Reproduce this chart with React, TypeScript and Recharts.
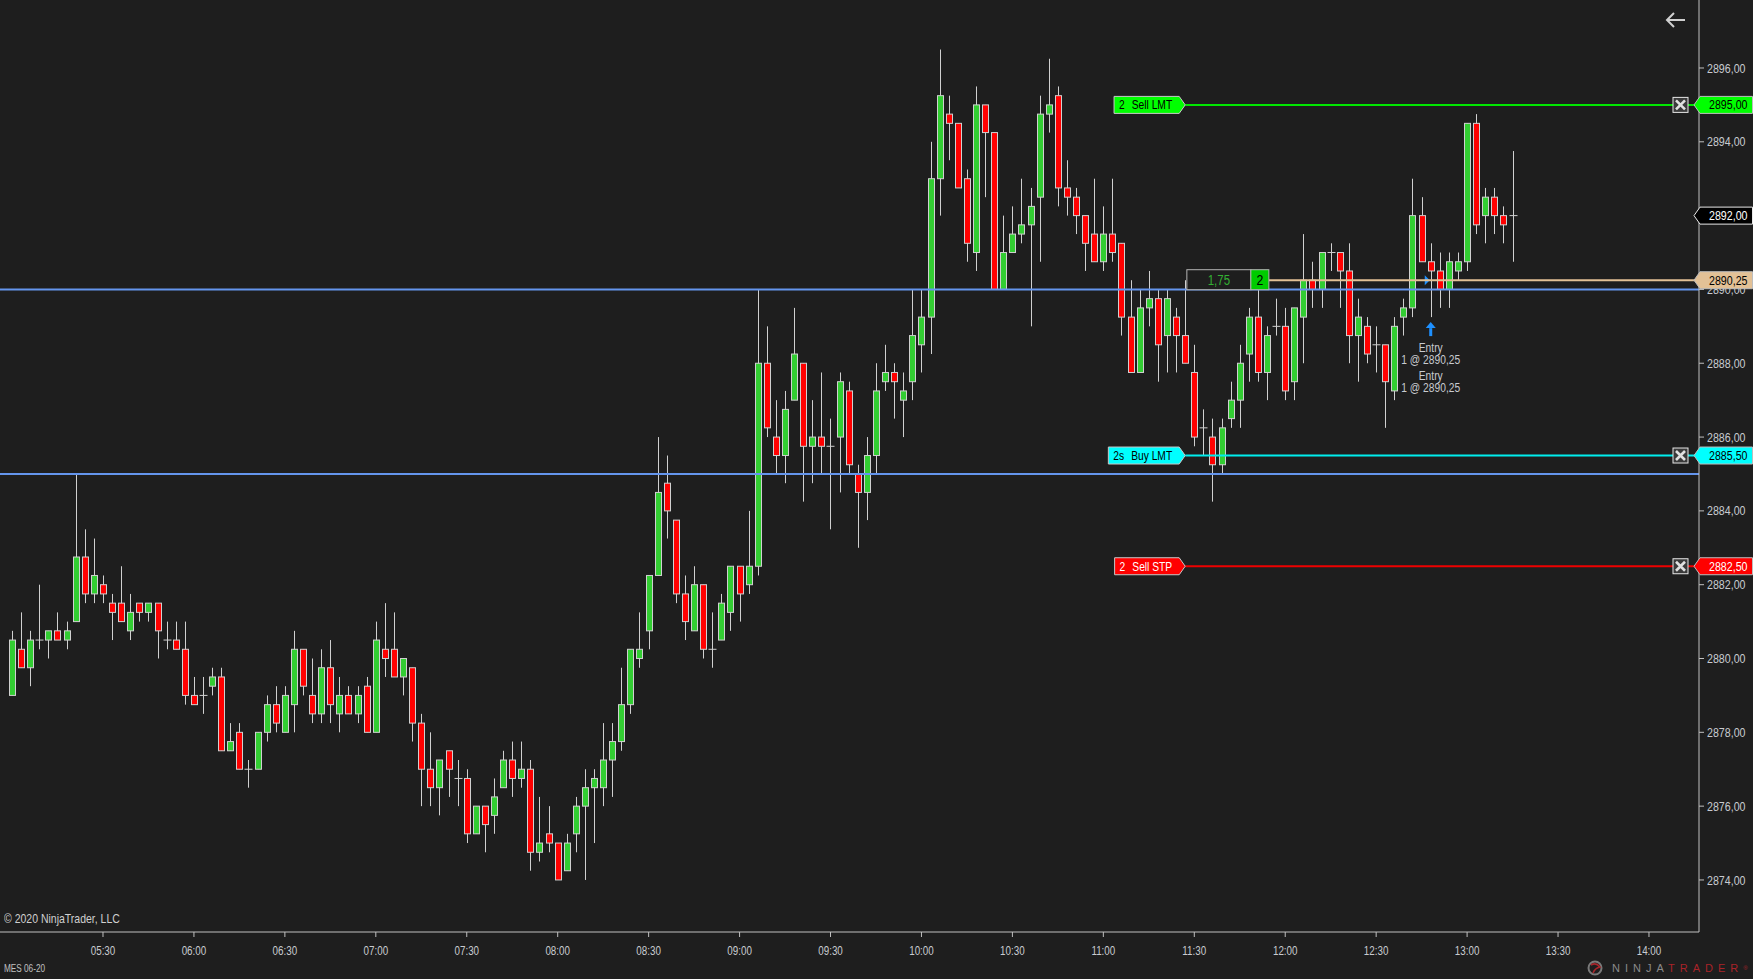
import React from 'react';
import {
  ComposedChart,
  Bar,
  XAxis,
  YAxis,
  ReferenceLine,
  ReferenceDot,
} from 'recharts';

// MES 06-20, 3 minute bars starting 05:00
const START_MINUTES = 5 * 60;
const BAR_MINUTES = 3;

const OPEN = [
  2879.0, 2880.25, 2879.75, 2880.5, 2880.5, 2880.75, 2880.5, 2881.0, 2882.75, 2881.75,
  2882.0, 2881.5, 2881.5, 2880.75, 2881.5, 2881.25, 2881.5, 2880.5, 2880.5, 2880.25,
  2879.0, 2879.0, 2879.25, 2879.5, 2877.5, 2878.0, 2877.0, 2877.0, 2878.0, 2878.75,
  2878.0, 2878.75, 2880.25, 2879.0, 2878.5, 2879.75, 2878.5, 2879.0, 2878.5, 2879.25,
  2878.0, 2880.25, 2880.25, 2879.5, 2879.75, 2878.25, 2877.0, 2876.5, 2877.5, 2876.75,
  2876.75, 2875.25, 2876.0, 2875.75, 2876.5, 2877.25, 2876.75, 2877.0, 2874.75, 2875.25,
  2875.0, 2874.25, 2875.25, 2876.0, 2876.5, 2876.5, 2877.25, 2877.75, 2878.75, 2880.0,
  2880.75, 2882.25, 2884.75, 2883.75, 2881.75, 2880.75, 2882.0, 2880.25, 2880.5, 2881.25,
  2882.5, 2882.0, 2882.5, 2888.0, 2886.0, 2885.5, 2887.0, 2888.0, 2885.75, 2886.0,
  2885.75, 2886.0, 2887.25, 2885.0, 2884.5, 2885.5, 2887.5, 2887.75, 2887.0, 2887.5,
  2888.5, 2889.25, 2893.0, 2894.75, 2894.5, 2893.0, 2891.0, 2895.0, 2894.25, 2890.0,
  2891.0, 2891.5, 2891.75, 2892.5, 2894.75, 2895.25, 2892.75, 2892.5, 2892.0, 2891.5,
  2890.75, 2891.5, 2891.25, 2889.25, 2887.75, 2889.5, 2889.75, 2888.75, 2889.25, 2888.75,
  2887.75, 2886.25, 2886.0, 2885.25, 2886.5, 2887.0, 2888.25, 2889.25, 2887.75, 2889.0,
  2889.0, 2887.5, 2889.25, 2890.25, 2890.0, 2891.0, 2891.0, 2890.5, 2888.75, 2889.0,
  2888.5, 2888.5, 2887.25, 2889.25, 2889.5, 2892.0, 2890.75, 2890.5, 2890.0, 2890.5,
  2890.75, 2894.5, 2892.0, 2892.5, 2892.0, 2892.0,
];
const HIGH = [
  2880.75, 2881.25, 2880.75, 2882.0, 2880.75, 2881.25, 2881.0, 2885.0, 2883.5, 2883.25,
  2882.25, 2881.75, 2882.5, 2881.75, 2881.5, 2881.5, 2881.5, 2881.0, 2881.0, 2881.0,
  2879.5, 2879.5, 2879.75, 2879.75, 2878.25, 2878.25, 2877.25, 2878.0, 2879.0, 2879.25,
  2879.25, 2880.75, 2880.25, 2880.0, 2880.25, 2880.5, 2879.5, 2879.25, 2879.25, 2879.5,
  2881.0, 2881.5, 2881.25, 2880.0, 2879.75, 2878.5, 2878.0, 2877.25, 2877.5, 2877.25,
  2877.0, 2876.0, 2876.0, 2876.75, 2877.5, 2877.75, 2877.75, 2877.25, 2876.25, 2876.0,
  2875.0, 2875.25, 2876.25, 2877.0, 2877.0, 2878.25, 2878.25, 2879.75, 2880.25, 2881.25,
  2882.25, 2886.0, 2885.5, 2883.75, 2882.25, 2882.5, 2882.0, 2881.25, 2881.75, 2882.5,
  2882.5, 2884.0, 2890.0, 2889.0, 2887.0, 2887.25, 2889.5, 2888.0, 2887.0, 2887.75,
  2886.5, 2887.75, 2887.5, 2885.25, 2886.0, 2888.0, 2888.5, 2888.0, 2887.75, 2890.0,
  2890.0, 2894.0, 2896.5, 2895.25, 2894.5, 2893.25, 2895.5, 2895.0, 2894.25, 2892.0,
  2892.25, 2893.0, 2892.75, 2895.25, 2896.25, 2895.5, 2893.5, 2892.75, 2892.0, 2893.0,
  2892.25, 2893.0, 2891.25, 2890.25, 2890.0, 2890.5, 2890.0, 2890.0, 2889.5, 2890.25,
  2888.5, 2886.75, 2886.5, 2886.5, 2887.5, 2888.5, 2889.5, 2890.0, 2889.0, 2889.75,
  2889.5, 2889.5, 2891.5, 2890.75, 2891.0, 2891.25, 2891.0, 2891.25, 2889.75, 2889.25,
  2889.0, 2888.5, 2889.25, 2889.75, 2893.0, 2892.5, 2891.25, 2891.0, 2891.0, 2891.0,
  2894.5, 2894.75, 2892.75, 2892.75, 2892.25, 2893.75,
];
const LOW = [
  2879.0, 2879.75, 2879.25, 2880.25, 2880.0, 2880.5, 2880.25, 2881.0, 2881.5, 2881.5,
  2881.5, 2880.5, 2881.0, 2880.5, 2881.0, 2881.0, 2880.0, 2880.25, 2880.25, 2878.75,
  2878.75, 2878.5, 2879.0, 2877.5, 2877.5, 2877.0, 2876.5, 2877.0, 2877.75, 2878.0,
  2878.0, 2878.0, 2879.0, 2878.25, 2878.25, 2878.25, 2878.0, 2878.5, 2878.25, 2878.0,
  2878.0, 2879.5, 2879.5, 2879.0, 2877.75, 2876.0, 2876.0, 2875.75, 2876.25, 2876.0,
  2875.0, 2875.25, 2874.75, 2875.25, 2876.5, 2876.25, 2876.5, 2874.25, 2874.5, 2874.75,
  2874.0, 2874.25, 2874.75, 2874.0, 2875.0, 2876.0, 2876.25, 2877.5, 2878.5, 2879.75,
  2880.25, 2882.25, 2883.25, 2881.5, 2880.5, 2880.75, 2880.0, 2879.75, 2880.5, 2880.75,
  2881.0, 2881.75, 2882.25, 2886.0, 2885.0, 2884.75, 2887.0, 2884.25, 2884.75, 2885.0,
  2883.5, 2884.5, 2885.0, 2883.0, 2883.75, 2885.0, 2887.25, 2886.5, 2886.0, 2887.0,
  2887.75, 2888.25, 2892.0, 2893.5, 2892.75, 2890.75, 2890.5, 2892.5, 2890.0, 2890.0,
  2891.0, 2891.25, 2889.0, 2890.75, 2894.25, 2892.25, 2892.0, 2891.5, 2890.5, 2890.75,
  2890.5, 2890.75, 2888.75, 2887.75, 2887.75, 2889.0, 2887.5, 2887.75, 2887.75, 2888.0,
  2885.75, 2885.5, 2884.25, 2885.0, 2886.25, 2886.25, 2887.5, 2887.5, 2887.0, 2888.75,
  2887.0, 2887.0, 2888.0, 2889.5, 2889.5, 2890.5, 2889.5, 2888.0, 2887.5, 2888.0,
  2887.75, 2886.25, 2887.0, 2888.75, 2889.25, 2890.75, 2889.25, 2889.5, 2889.5, 2890.25,
  2890.5, 2891.5, 2891.25, 2891.5, 2891.25, 2890.75,
];
const CLOSE = [
  2880.5, 2879.75, 2880.5, 2880.5, 2880.75, 2880.5, 2880.75, 2882.75, 2881.75, 2882.25,
  2881.75, 2881.25, 2881.0, 2881.25, 2881.25, 2881.5, 2880.75, 2880.5, 2880.25, 2879.0,
  2878.75, 2879.0, 2879.5, 2877.5, 2877.75, 2877.0, 2877.0, 2878.0, 2878.75, 2878.25,
  2879.0, 2880.25, 2879.25, 2878.5, 2879.75, 2878.75, 2879.0, 2878.5, 2879.0, 2878.0,
  2880.5, 2880.0, 2879.5, 2880.0, 2878.25, 2877.0, 2876.5, 2877.25, 2877.0, 2876.75,
  2875.25, 2876.0, 2875.5, 2876.25, 2877.25, 2876.75, 2877.0, 2874.75, 2875.0, 2875.0,
  2874.0, 2875.0, 2876.0, 2876.5, 2876.75, 2877.25, 2877.75, 2878.75, 2880.25, 2880.25,
  2882.25, 2884.5, 2884.0, 2881.75, 2881.0, 2882.0, 2880.25, 2880.25, 2881.5, 2882.5,
  2881.75, 2882.5, 2888.0, 2886.25, 2885.5, 2886.75, 2888.25, 2885.75, 2886.0, 2885.75,
  2885.75, 2887.5, 2885.25, 2884.5, 2885.5, 2887.25, 2887.75, 2887.5, 2887.25, 2888.75,
  2889.25, 2893.0, 2895.25, 2894.5, 2892.75, 2891.25, 2895.0, 2894.25, 2890.0, 2891.0,
  2891.5, 2891.75, 2892.25, 2894.75, 2895.0, 2892.75, 2892.5, 2892.0, 2891.25, 2890.75,
  2891.5, 2891.0, 2889.25, 2887.75, 2889.5, 2889.75, 2888.5, 2889.75, 2888.75, 2888.0,
  2886.0, 2886.25, 2885.25, 2886.25, 2887.0, 2888.0, 2889.25, 2887.75, 2888.75, 2889.0,
  2887.25, 2889.5, 2890.25, 2890.0, 2891.0, 2891.0, 2890.5, 2888.75, 2889.25, 2888.25,
  2888.5, 2887.5, 2889.0, 2889.5, 2892.0, 2890.75, 2890.5, 2890.0, 2890.75, 2890.75,
  2894.5, 2891.75, 2892.5, 2892.0, 2891.75, 2892.0,
];

const TIME_TICKS = [
  '05:30', '06:00', '06:30', '07:00', '07:30', '08:00', '08:30', '09:00', '09:30',
  '10:00', '10:30', '11:00', '11:30', '12:00', '12:30', '13:00', '13:30', '14:00',
];
const PRICE_TICKS = [2874, 2876, 2878, 2880, 2882, 2884, 2886, 2888, 2890, 2892, 2894, 2896];

// horizontal drawn levels
const BLUE_LEVELS = [2890, 2885];

// working orders
const ORDER_QTY = ['2', '2s', '2'];
const ORDER_TYPE = ['Sell LMT', 'Buy LMT', 'Sell STP'];
const ORDER_PRICE = [2895.0, 2885.5, 2882.5];

// open position
const POSITION_PRICE = 2890.25;
const POSITION_QTY = '2';
const POSITION_PNL = '1,75';

// executions
const ENTRY_BAR = 156;
const ENTRY_FILLS = [1, 1];

// layout
const X_MIN = -1.326;
const X_MAX = 185.5;
const Y_MIN = 2872.59;
const Y_MAX = 2897.842;
const ORDER_LINE_FROM = 129;
const POSITION_LINE_FROM = 138.2;
const TOP_Z = 2000;

const BG = '#1e1e1e';
const WICK = '#d0d0d0';
const UP = '#32cd32';
const DOWN = '#ff0000';
const AXIS = '#c0c0c0';
const TEXT = '#c8cbd0';
const FONT = '"Liberation Sans", Arial, sans-serif';
const NARROW = 0.82; // squeeze Arial into an Arial Narrow look

const ORDER_STYLE: Record<string, { fill: string; line: string; ink: string }> = {
  'Sell LMT': { fill: '#00ff00', line: '#00e600', ink: '#000000' },
  'Buy LMT': { fill: '#00ffff', line: '#00eeee', ink: '#000000' },
  'Sell STP': { fill: '#ff0000', line: '#ee0000', ink: '#ffffff' },
};

// rough Arial advance widths in em
const CHAR_W: Record<string, number> = {
  ' ': 0.278, ',': 0.278, ':': 0.278, '@': 1.015, S: 0.667, e: 0.556, l: 0.222, L: 0.556,
  M: 0.833, T: 0.611, B: 0.667, u: 0.556, y: 0.5, s: 0.5, P: 0.667,
};
const textWidth = (s: string, size: number) =>
  s.split('').reduce((a, ch) => a + (CHAR_W[ch] ?? 0.556), 0) * size * NARROW;

const fmtPrice = (p: number) => p.toFixed(2).replace('.', ',');
const toMinutes = (t: string) => {
  const [h, m] = t.split(':').map(Number);
  return h * 60 + m;
};
const tickIndex = TIME_TICKS.map((t) => (toMinutes(t) - START_MINUTES) / BAR_MINUTES);
const indexToTime = (i: number) => {
  const m = START_MINUTES + Math.round(i) * BAR_MINUTES;
  return `${String(Math.floor(m / 60)).padStart(2, '0')}:${String(m % 60).padStart(2, '0')}`;
};

const candles = OPEN.map((o, i) => ({
  i,
  o,
  h: HIGH[i],
  l: LOW[i],
  c: CLOSE[i],
  range: [LOW[i], HIGH[i]],
}));
const LAST_PRICE = CLOSE[CLOSE.length - 1];

function NText({ x, y, size, fill, anchor = 'start', children }: any) {
  return (
    <text
      transform={`translate(${x},${y}) scale(${NARROW},1)`}
      fontSize={size}
      fontFamily={FONT}
      fill={fill}
      textAnchor={anchor}
    >
      {children}
    </text>
  );
}

function Candle(props: any) {
  const { x, y, width, height, payload } = props;
  if (!payload || height == null || isNaN(y)) return null;
  const top = Math.min(y, y + height);
  const span = Math.abs(height);
  const { o, h, l, c } = payload;
  const k = span / (h - l);
  const cx = Math.round(x + width / 2) + 0.5;
  const yo = top + (h - o) * k;
  const yc = top + (h - c) * k;
  const bodyTop = Math.min(yo, yc);
  const bodyH = Math.abs(yc - yo);
  return (
    <g>
      <line x1={cx} x2={cx} y1={top} y2={top + span} stroke={WICK} strokeWidth={1} />
      {bodyH < 0.5 ? (
        <line x1={cx - 4} x2={cx + 4} y1={yo} y2={yo} stroke={WICK} strokeWidth={1} />
      ) : (
        <rect
          x={cx - 3}
          y={bodyTop}
          width={6}
          height={bodyH}
          fill={c > o ? UP : DOWN}
          stroke={WICK}
          strokeWidth={1}
        />
      )}
    </g>
  );
}

function TimeTick(props: any) {
  const { x, y, payload } = props;
  return (
    <NText x={x} y={y + 15.5} size={12} fill={TEXT} anchor="middle">
      {indexToTime(payload.value)}
    </NText>
  );
}

function PriceTick(props: any) {
  const { x, y, payload } = props;
  // the last price tag sits on top of this level in the original
  if (payload.value === LAST_PRICE) return null;
  return (
    <NText x={x} y={y + 4.6} size={13} fill={TEXT}>
      {fmtPrice(payload.value)}
    </NText>
  );
}

function AxisTag({ x, y, text, fill, ink, stroke }: any) {
  const h = 8.5;
  return (
    <g>
      <polygon
        points={`${x - 5},${y} ${x + 1},${y - h} ${x + 53.5},${y - h} ${x + 53.5},${y + h} ${x + 1},${y + h}`}
        fill={fill}
        stroke={stroke || '#bdbdbd'}
        strokeWidth={1}
      />
      <NText x={x + 10} y={y + 4.6} size={13} fill={ink}>
        {text}
      </NText>
    </g>
  );
}

function CloseBox({ cx, cy }: any) {
  return (
    <g>
      <rect x={cx - 7.5} y={cy - 7.5} width={15} height={15} fill="#3a3a3a" stroke="#e6e6e6" strokeWidth={1} />
      <path
        d={`M${cx - 4.5},${cy - 4.5} L${cx + 4.5},${cy + 4.5} M${cx + 4.5},${cy - 4.5} L${cx - 4.5},${cy + 4.5}`}
        stroke="#e0e0e0"
        strokeWidth={2.6}
      />
    </g>
  );
}

function OrderLabel({ viewBox, qty, type, price }: any) {
  if (!viewBox) return null;
  const { x, y, width } = viewBox;
  const st = ORDER_STYLE[type];
  const size = 12.5;
  const gap = 7;
  const w = textWidth(qty, size) + gap + textWidth(type, size) + 18;
  const h = 8.5;
  const axisX = x + width;
  return (
    <g>
      <polygon
        points={`${x - w},${y - h} ${x - 6},${y - h} ${x},${y} ${x - 6},${y + h} ${x - w},${y + h}`}
        fill={st.fill}
        stroke="#c8c8c8"
        strokeWidth={1}
      />
      <NText x={x - w + 5} y={y + 4.5} size={size} fill={st.ink}>
        <tspan>{qty}</tspan>
        <tspan dx={gap / NARROW}>{type}</tspan>
      </NText>
      <CloseBox cx={axisX - 18.5} cy={y} />
      <AxisTag x={axisX} y={y} text={fmtPrice(price)} fill={st.fill} ink={st.ink} />
    </g>
  );
}

function PositionLabel({ viewBox }: any) {
  if (!viewBox) return null;
  const { x, y, width } = viewBox;
  const axisX = x + width;
  return (
    <g>
      <rect x={x - 82} y={y - 10.5} width={64} height={20} fill={BG} stroke="#b4b4b4" strokeWidth={1} />
      <NText x={x - 50} y={y + 4.8} size={14} fill="#33b033" anchor="middle">
        {POSITION_PNL}
      </NText>
      <rect x={x - 18} y={y - 10.5} width={18} height={20} fill="#00cc00" stroke="#b4b4b4" strokeWidth={1} />
      <NText x={x - 9} y={y + 5} size={15} fill="#000" anchor="middle">
        {POSITION_QTY}
      </NText>
      <AxisTag x={axisX} y={y} text={fmtPrice(POSITION_PRICE)} fill="#e3c196" ink="#000" />
    </g>
  );
}

function EntryMarker(props: any) {
  const { cx, cy } = props;
  if (cx == null || cy == null) return null;
  const t = cy + 5;
  return (
    <g>
      <polygon points={`${cx},${t} ${cx + 5},${t + 6} ${cx - 5},${t + 6}`} fill="#1e90ff" />
      <rect x={cx - 1.5} y={t + 6} width={3} height={8} fill="#1e90ff" />
      {ENTRY_FILLS.map((q, k) => (
        <g key={k}>
          <NText x={cx} y={cy + 35 + k * 28} size={12.5} fill={TEXT} anchor="middle">
            Entry
          </NText>
          <NText x={cx} y={cy + 47 + k * 28} size={12.5} fill={TEXT} anchor="middle">
            {`${q} @ ${fmtPrice(POSITION_PRICE)}`}
          </NText>
        </g>
      ))}
    </g>
  );
}

function FillMarker(props: any) {
  const { cx, cy } = props;
  if (cx == null || cy == null) return null;
  return <polygon points={`${cx - 6},${cy - 5} ${cx - 1},${cy} ${cx - 6},${cy + 5}`} fill="#1e90ff" />;
}

function LastPriceTag(props: any) {
  const { cx, cy } = props;
  if (cx == null || cy == null) return null;
  return <AxisTag x={cx} y={cy} text={fmtPrice(LAST_PRICE)} fill="#000" ink="#fff" stroke="#e8e8e8" />;
}

const narrowCss: React.CSSProperties = {
  position: 'absolute',
  transform: `scaleX(${NARROW})`,
  transformOrigin: 'left center',
  whiteSpace: 'nowrap',
  fontFamily: FONT,
};

export default function App() {
  return (
    <div
      style={{
        position: 'absolute',
        left: 0,
        top: 0,
        width: 1753,
        height: 979,
        background: BG,
        overflow: 'hidden',
        fontFamily: FONT,
      }}
    >
      <ComposedChart
        width={1753}
        height={979}
        data={candles}
        margin={{ top: 0, right: 0, bottom: 0, left: 0 }}
        style={{ fontFamily: FONT }}
      >
        <XAxis
          dataKey="i"
          type="number"
          domain={[X_MIN, X_MAX]}
          allowDataOverflow
          ticks={tickIndex}
          interval={0}
          height={47}
          stroke={AXIS}
          tickSize={5}
          tickMargin={2}
          tick={<TimeTick />}
        />
        <YAxis
          orientation="right"
          type="number"
          domain={[Y_MIN, Y_MAX]}
          allowDataOverflow
          ticks={PRICE_TICKS}
          interval={0}
          width={54}
          stroke={AXIS}
          tickSize={5}
          tickMargin={3}
          tick={<PriceTick />}
        />
        <Bar dataKey="range" barSize={7} shape={<Candle />} isAnimationActive={false} />
        {BLUE_LEVELS.map((p) => (
          <ReferenceLine key={p} y={p} stroke="#6495ed" strokeWidth={2} ifOverflow="visible" />
        ))}
        {ORDER_PRICE.map((p, k) => (
          <ReferenceLine
            key={ORDER_TYPE[k]}
            segment={[
              { x: ORDER_LINE_FROM, y: p },
              { x: X_MAX, y: p },
            ]}
            stroke={ORDER_STYLE[ORDER_TYPE[k]].line}
            strokeWidth={2}
            ifOverflow="visible"
            zIndex={TOP_Z}
            label={<OrderLabel qty={ORDER_QTY[k]} type={ORDER_TYPE[k]} price={p} />}
          />
        ))}
        <ReferenceLine
          segment={[
            { x: POSITION_LINE_FROM, y: POSITION_PRICE },
            { x: X_MAX, y: POSITION_PRICE },
          ]}
          stroke="#e3c196"
          strokeWidth={2}
          ifOverflow="visible"
          zIndex={TOP_Z}
          label={<PositionLabel />}
        />
        <ReferenceDot x={ENTRY_BAR} y={POSITION_PRICE} r={0} ifOverflow="visible" shape={FillMarker} />
        <ReferenceDot x={ENTRY_BAR} y={LOW[ENTRY_BAR]} r={0} ifOverflow="visible" shape={EntryMarker} />
        <ReferenceDot
          x={X_MAX}
          y={LAST_PRICE}
          r={0}
          ifOverflow="visible"
          zIndex={TOP_Z}
          shape={LastPriceTag}
        />
      </ComposedChart>

      <div style={{ ...narrowCss, left: 4, top: 911, fontSize: 12.8, lineHeight: '16px', color: '#d0d0d0' }}>
        © 2020 NinjaTrader, LLC
      </div>
      <div style={{ ...narrowCss, left: 4, top: 962, fontSize: 10, lineHeight: '14px', color: '#c0c0c0' }}>
        MES 06-20
      </div>
      <div
        style={{
          position: 'absolute',
          left: 1612,
          top: 961,
          fontSize: 11,
          letterSpacing: 5,
          fontFamily: FONT,
          lineHeight: '14px',
          whiteSpace: 'nowrap',
        }}
      >
        <span style={{ color: '#8a8a8a' }}>NINJA</span>
        <span style={{ color: '#a82329' }}>TRADER</span>
        <span style={{ color: '#a82329', fontSize: 6, verticalAlign: 'top', letterSpacing: 0 }}>®</span>
      </div>
      <svg style={{ position: 'absolute', left: 1586, top: 959 }} width={20} height={18}>
        <circle cx={9} cy={9} r={6.5} fill="none" stroke="#7a7a7a" strokeWidth={2} />
        <path d="M5,6 Q10,3 14,8 Q9,9 7,14" fill="none" stroke="#a8262b" strokeWidth={1.6} />
      </svg>
      <svg style={{ position: 'absolute', left: 1664, top: 10 }} width={24} height={20}>
        <path d="M3,10 L21,10 M10,3 L3,10 L10,17" fill="none" stroke="#d0d0d0" strokeWidth={2} />
      </svg>
    </div>
  );
}
